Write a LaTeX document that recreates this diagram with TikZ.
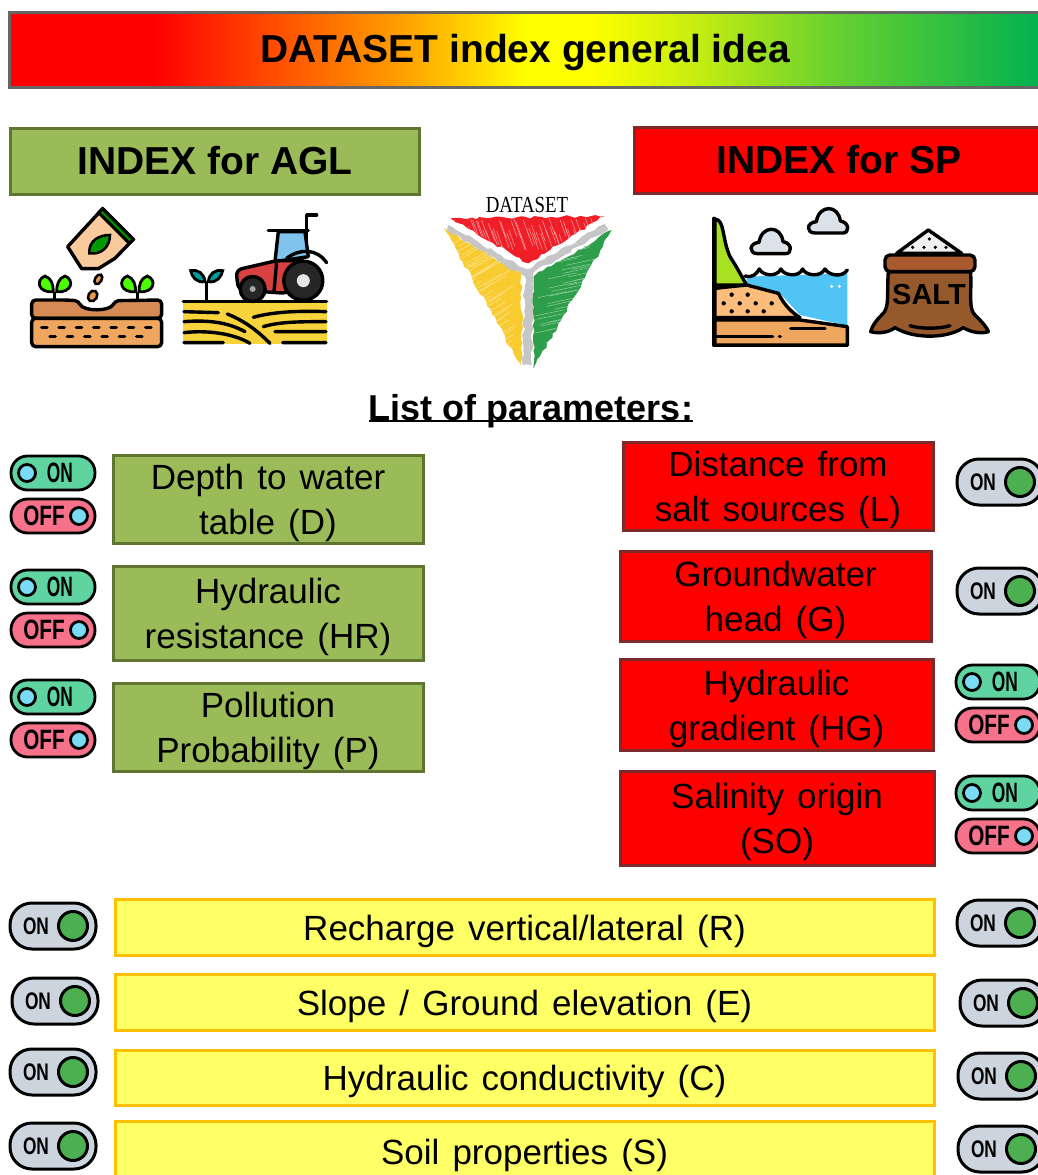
\documentclass[tikz,border=0pt]{standalone}
\usepackage{fontspec}
\usetikzlibrary{decorations.pathmorphing}
\setmainfont[WordSpace=1.35,BoldFeatures={WordSpace=1.0}]{Liberation Sans}
\newfontfamily\serifdata{Liberation Serif}
\definecolor{gA}{HTML}{FF0000}\definecolor{gB}{HTML}{FFA000}\definecolor{gC}{HTML}{FFFF00}
\definecolor{gD}{HTML}{C8EE10}\definecolor{gE}{HTML}{66D030}\definecolor{gF}{HTML}{00B050}
\pgfdeclarehorizontalshading{titlegrad}{100bp}{
  color(0bp)=(gA); color(32bp)=(gA); color(44bp)=(gB); color(50bp)=(gC); color(53bp)=(gC);
  color(58bp)=(gD); color(65bp)=(gE); color(75bp)=(gF); color(100bp)=(gF)}
\definecolor{agl}{HTML}{9BBB59}\definecolor{aglb}{HTML}{5F7530}
\definecolor{spb}{HTML}{7F2A2A}\definecolor{yel}{HTML}{FFFF66}\definecolor{yelb}{HTML}{FFC000}
\definecolor{pon}{HTML}{5FD3A0}\definecolor{poff}{HTML}{F5728A}\definecolor{pball}{HTML}{7ADBF5}
\definecolor{pgray}{HTML}{CCD5DE}\definecolor{pgreen}{HTML}{4CAF50}
\definecolor{water}{HTML}{50C4F4}\definecolor{grass}{HTML}{A8E022}
\definecolor{sack}{HTML}{96592C}\definecolor{band}{HTML}{A85A2E}
\definecolor{field}{HTML}{F7D43C}\definecolor{soilA}{HTML}{D68B55}\definecolor{soilB}{HTML}{EFA65F}
\definecolor{logoY}{HTML}{F8CC30}\definecolor{logoG}{HTML}{2E9E4A}\definecolor{logoR}{HTML}{F01E26}
\tikzset{
  x=1pt,y=-1pt,
  txt/.style={font=\fontsize{35}{45}\selectfont,align=center,text=black,inner sep=0pt},
  bigt/.style={font=\fontsize{39}{44}\selectfont\bfseries,text=black},
  aglbox/.style={draw=aglb,fill=agl,line width=3pt},
  spbox/.style={draw=spb,fill=red,line width=3pt},
  yelbox/.style={draw=yelb,fill=yel,line width=3pt},
  ol/.style={draw=black,line width=3.4pt,line join=round,line cap=round},
  pilla/.style={font=\fontsize{28}{28}\selectfont\bfseries,text=black,inner sep=0pt,xscale=.62},
  pillb/.style={font=\fontsize{28}{28}\selectfont\bfseries,text=black,inner sep=0pt,xscale=.74},
  pillc/.style={font=\fontsize{24}{24}\selectfont\bfseries,text=black,inner sep=0pt,xscale=.72},
  zoomed/.style={x=.3333pt,y=-.3333pt},
  rough/.style={decorate,decoration={random steps,segment length=5pt,amplitude=1.6pt}},
  pics/togon/.style={code={
    \draw[fill=pon,line width=2.8pt,rounded corners=16.5pt] (-42,-17) rectangle (42,17);
    \draw[fill=pball,line width=2.8pt] (-26,0) circle (8.5pt);
    \node[pilla] (lab) at (7,0) {ON};}},
  pics/togoff/.style={code={
    \draw[fill=poff,line width=2.8pt,rounded corners=16.5pt] (-42,-17) rectangle (42,17);
    \draw[fill=pball,line width=2.8pt] (26,0) circle (8.5pt);
    \node[pillb] (lab) at (-9,0) {OFF};}},
  pics/toggray/.style={code={
    \draw[fill=pgray,line width=3pt,rounded corners=22pt] (-43,-23) rectangle (43,23);
    \draw[fill=pgreen,line width=3pt] (20,0) circle (14.5pt);
    \node[pillc] (lab) at (-17,0) {ON};}},
}
\newcommand{\cloudshape}[2]{%
  \begin{scope}[shift={(#1,#2)}]
  \draw[ol,fill=pgray!70!white] (-42,38) .. controls (-70,38) and (-68,6) .. (-38,4)
    .. controls (-30,-48) and (28,-48) .. (34,2) .. controls (62,6) and (62,38) .. (42,38) -- cycle;
  \end{scope}}
\newcommand{\pbx}[7]{% style,name,cx,cy,w,h,text
  \node[#1,minimum width=#5,minimum height=#6,inner sep=0pt] (#2) at (#3,#4) {};
  \node[txt] (#2t) at (#3,#4+4) {#7};}
\begin{document}
\begin{tikzpicture}
\path[use as bounding box] (0,0) rectangle (1038,1175);
\clip (0,0) rectangle (1038,1175);
% title
\path[shade,shading=titlegrad] (9,12) rectangle (1045,87);
\draw[gray!80!black,line width=3pt] (1045,12) -- (9,12) -- (9,87) -- (1045,87);
\node[bigt] (title) at (525,53) {DATASET index general idea};
% headers
\draw[aglbox] (10,128) rectangle (419,194);
\node[bigt] (hagl) at (215,161) {INDEX for AGL};
\draw[spbox] (634,127) rectangle (1045,193);
\node[bigt] (hsp) at (839,160) {INDEX for SP};
% seed icon
\begin{scope}[shift={(0,190)},zoomed]
  \draw[ol,fill=orange!35!white!90!brown] (308,56) -- (400,148) -- (345,205) -- (295,236) -- (245,236) -- (203,170) -- cycle;
  \draw[line width=3pt,draw=black,fill=green!55!black] (308,56) -- (400,148) -- (388,160) -- (296,68) -- cycle;
  \draw[line width=2.5pt,fill=green!60!black] (268,190) .. controls (265,150) and (300,135) .. (330,135) .. controls (330,170) and (305,195) .. (268,190) -- cycle;
  \draw[line width=2.5pt,fill=orange!50!brown!80!white,rotate around={-30:(295,268)}] (295,268) ellipse [x radius=10,y radius=16];
  \draw[line width=2.5pt,fill=orange!50!brown!80!white,rotate around={-30:(278,318)}] (278,318) ellipse [x radius=13,y radius=17];
  \draw[ol,fill=soilA,rounded corners=4pt] (95,330) -- (195,330) -- (235,332) .. controls (250,365) and (330,365) .. (345,332) -- (485,330) -- (485,385) -- (95,385) -- cycle;
  \draw[ol,fill=soilB,rounded corners=4pt] (95,385) rectangle (485,470);
  \foreach \xx in {133,185,237,289,341,393,445} \draw[line width=3.4pt,line cap=round] (\xx-8,413) -- (\xx+8,413);
  \foreach \xx in {158,210,262,314,366,418} \draw[line width=3.4pt,line cap=round] (\xx-8,440) -- (\xx+8,440);
  \foreach \xx in {165,412} {
    \draw[line width=3pt] (\xx,330) -- (\xx,305);
    \draw[line width=2.8pt,fill=green!70!yellow] (\xx-5,305) .. controls (\xx-50,310) and (\xx-60,270) .. (\xx-30,258) .. controls (\xx-10,265) and (\xx-5,285) .. (\xx-5,305) -- cycle;
    \draw[line width=2.8pt,fill=green!70!yellow] (\xx+5,305) .. controls (\xx+50,310) and (\xx+60,270) .. (\xx+30,258) .. controls (\xx+10,265) and (\xx+5,285) .. (\xx+5,305) -- cycle;
  }
\end{scope}
% tractor icon
\begin{scope}[shift={(0,190)},zoomed]
  \fill[field] (550,335) rectangle (980,462);
  \draw[ol] (550,335) -- (980,335);
  \draw[ol] (552,365) -- (655,368) (552,395) .. controls (620,390) and (680,395) .. (735,425) (552,428) .. controls (620,420) and (700,430) .. (750,460) (552,458) -- (670,458) (682,372) .. controls (740,395) and (780,430) .. (810,460) (760,382) .. controls (820,365) and (900,362) .. (978,365) (790,410) .. controls (840,395) and (900,395) .. (978,395) (825,425) .. controls (860,425) and (920,425) .. (978,425) (848,458) -- (978,458);
  \draw[line width=3.2pt] (620,330) -- (620,272);
  \draw[line width=2.8pt,fill=teal!80!cyan] (615,275) .. controls (590,280) and (575,260) .. (572,242) .. controls (595,238) and (612,250) .. (615,275) -- cycle;
  \draw[line width=2.8pt,fill=teal!80!cyan] (625,275) .. controls (650,280) and (665,260) .. (668,242) .. controls (645,238) and (628,250) .. (625,275) -- cycle;
  \draw[ol,fill=cyan!45!white!90!blue] (835,125) -- (915,125) -- (925,200) -- (825,215) -- cycle;
  \draw[ol] (805,122) -- (925,122) (920,150) -- (920,75) -- (950,75);
  \draw[ol,fill=red!70!white!85!black,rounded corners=6pt] (708,240) -- (830,212) -- (920,212) -- (930,270) -- (860,310) -- (715,300) -- cycle;
  \draw[ol] (830,215) -- (822,305);
  \draw[ol] (860,205) .. controls (900,175) and (950,175) .. (980,218);
  \draw[ol,fill=black!70!gray] (758,297) circle (12.5pt);
  \fill[gray!70] (758,297) circle (3pt);
  \draw[ol,fill=black!70!gray] (910,272) circle (19.5pt);
  \fill[gray!20] (910,272) circle (6.5pt);
\end{scope}
% triangle logo
\begin{scope}[shift={(430,180)},zoomed]
  \fill[logoR,rough] (62,115) -- (525,108) -- (295,250) -- cycle;
  \fill[logoY,rough] (42,145) -- (275,280) -- (275,560) -- cycle;
  \fill[logoG,rough] (545,150) -- (310,290) -- (310,565) -- cycle;
  \fill[gray!45,rough] (55,135) -- (290,268) -- (525,132) -- (535,148) -- (310,278) -- (305,555) -- (278,555) -- (285,290) -- (50,150) -- cycle;
  \pgfmathsetseed{7}
  \begin{scope}
    \clip (62,115) -- (525,108) -- (295,250) -- cycle;
    \foreach \i in {1,...,60} {\pgfmathsetmacro{\xa}{60+\i*7.5+rnd*6}\pgfmathsetmacro{\ya}{112+rnd*50}
      \draw[white!55!logoR,line width=.55pt] (\xa,\ya) -- (\xa+18,\ya+50);}
  \end{scope}
  \begin{scope}
    \clip (42,145) -- (275,280) -- (275,560) -- cycle;
    \foreach \i in {1,...,55} {\pgfmathsetmacro{\ya}{150+\i*7.5+rnd*6}\pgfmathsetmacro{\xa}{60+rnd*120}
      \draw[white!45!logoY,line width=.55pt] (\xa,\ya) -- (\xa+75,\ya-45);}
  \end{scope}
  \begin{scope}
    \clip (545,150) -- (310,290) -- (310,565) -- cycle;
    \foreach \i in {1,...,55} {\pgfmathsetmacro{\yb}{165+\i*7.5+rnd*6}\pgfmathsetmacro{\xb}{310+rnd*130}
      \draw[white!45!logoG,line width=.55pt] (\xb,\yb) -- (\xb+85,\yb-18);}
  \end{scope}
\end{scope}
\node[font=\fontsize{23}{23}\selectfont\serifdata,text=black,xscale=.82,inner sep=0pt] (dsname) at (527,205) {DATASET};
% coast icon
\begin{scope}[shift={(700,195)},zoomed]
  \cloudshape{215}{138}
  \cloudshape{387}{76}
  \fill[water] (140,245) -- (442,235) -- (442,392) -- (300,360) -- (240,295) -- (140,265) -- cycle;
  \draw[ol] (135,243) .. controls (160,250) and (170,235) .. (178,222) .. controls (185,240) and (228,250) .. (243,222) .. controls (250,240) and (295,250) .. (308,222) .. controls (315,240) and (360,250) .. (375,222) .. controls (385,240) and (425,250) .. (442,225);
  \draw[ol,fill=grass] (45,72) .. controls (75,75) and (65,130) .. (90,185) .. controls (110,215) and (125,245) .. (140,270) -- (45,270) -- cycle;
  \draw[ol,fill=orange!50!white!95!brown] (45,280) -- (140,270) -- (235,295) .. controls (255,335) and (280,355) .. (300,368) -- (45,368) -- cycle;
  \foreach \px/\py in {95/299,143/299,71/325,119/325,167/325,215/325,95/349,143/349,191/349} \fill (\px,\py) circle (2.2pt);
  \fill[white] (395,274) circle (1.6pt) (418,274) circle (1.6pt);
  \draw[ol,fill=soilB] (45,375) -- (300,375) -- (442,395) -- (442,450) -- (45,450) -- cycle;
  \draw[ol] (272,400) -- (375,400) (50,424) -- (218,424) (238,424) -- (241,424);
  \draw[ol] (42,70) -- (42,452) -- (442,452);
\end{scope}
% salt icon
\begin{scope}[shift={(700,195)},zoomed]
  \draw[ol,fill=gray!12] (590,175) -- (685,105) -- (785,175) -- cycle;
  \foreach \px/\py in {688/132,638/157,672/157,706/157,738/157} \fill (\px,\py) circle (1.8pt);
  \draw[ol,fill=sack] (565,230) .. controls (560,300) and (570,340) .. (545,360) .. controls (520,385) and (515,400) .. (512,410) .. controls (540,418) and (570,410) .. (585,398) .. controls (640,432) and (740,432) .. (790,398) .. controls (810,410) and (840,418) .. (865,410) .. controls (860,395) and (845,380) .. (825,360) .. controls (805,340) and (815,300) .. (812,230) -- cycle;
  \draw[ol,fill=band,rounded corners=5pt] (555,180) rectangle (825,230);
  \draw[ol] (630,392) .. controls (660,402) and (720,402) .. (750,392);
  \node[font=\fontsize{29}{29}\selectfont\bfseries,text=black,inner sep=0pt] (saltlab) at (687,300) {SALT};
\end{scope}
% list title
\node[font=\fontsize{36}{44}\selectfont\bfseries,text=black,inner sep=0pt] (lst) at (531,411) {List of parameters:};
\draw[line width=2pt] ([yshift=-1pt]lst.base west) -- ([yshift=-1pt]lst.base east);
% green boxes
\pbx{aglbox}{bd}{268}{499}{310}{88}{Depth to water\\table (D)}
\pbx{aglbox}{bhr}{268}{613}{310}{94}{Hydraulic\\resistance (HR)}
\pbx{aglbox}{bp}{268}{727}{310}{88}{Pollution\\Probability (P)}
% red boxes
\pbx{spbox}{bl}{778}{486}{310}{88}{Distance from\\salt sources (L)}
\pbx{spbox}{bg}{775.5}{596}{311}{90}{Groundwater\\head (G)}
\pbx{spbox}{bhg}{776.5}{704.5}{313}{91}{Hydraulic\\gradient (HG)}
\pbx{spbox}{bso}{777}{818}{314}{94}{Salinity origin\\(SO)}
% yellow boxes
\pbx{yelbox}{br}{524.5}{927}{819}{56}{Recharge vertical/lateral (R)}
\pbx{yelbox}{be}{524.5}{1002}{819}{56}{Slope / Ground elevation (E)}
\pbx{yelbox}{bc}{524.5}{1077.5}{819}{55}{Hydraulic conductivity (C)}
\pbx{yelbox}{bs}{524.5}{1151}{819}{60}{Soil properties (S)}
% toggles
\pic (a1) at (53,473) {togon}; \pic (a2) at (53,516) {togoff};
\pic (a3) at (53,587) {togon}; \pic (a4) at (53,630) {togoff};
\pic (a5) at (53,697) {togon}; \pic (a6) at (53,740) {togoff};
\pic (b1) at (998,682) {togon}; \pic (b2) at (998,725) {togoff};
\pic (b3) at (998,793) {togon}; \pic (b4) at (998,836) {togoff};
\pic (c1) at (1000,482) {toggray}; \pic (c2) at (1000,591) {toggray};
\pic (d1) at (53,926) {toggray}; \pic (d2) at (55,1001) {toggray};
\pic (d3) at (53,1072) {toggray}; \pic (d4) at (53,1146) {toggray};
\pic (e1) at (1000,923) {toggray}; \pic (e2) at (1003,1003) {toggray};
\pic (e3) at (1001,1076) {toggray}; \pic (e4) at (1001,1149) {toggray};
\end{tikzpicture}
\end{document}
